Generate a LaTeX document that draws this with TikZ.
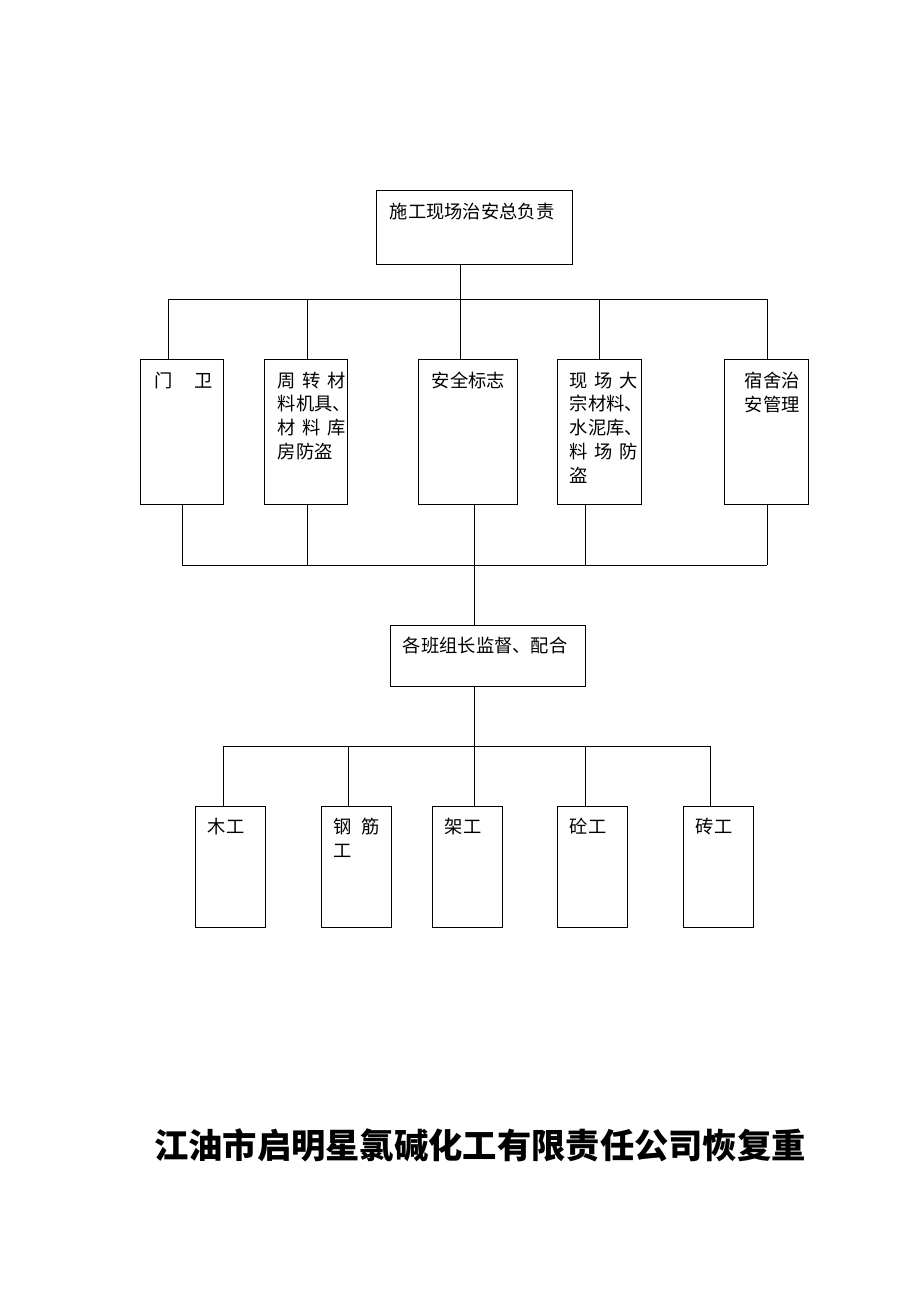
\documentclass[tikz,border=0pt]{standalone}
\usepackage{fontspec}
\setmainfont{Noto Sans CJK SC}
\usetikzlibrary{positioning}
\newcommand{\spread}[2][3.7em]{\makebox[#1][s]{#2}}
\tikzset{
	box/.style={draw, line width=0.65pt, inner sep=0pt},
	lbl/.style={inner sep=0pt, align=left, font=\fontsize{13}{17}\selectfont},
	wire/.style={line width=0.65pt}
}
\begin{document}
\begin{tikzpicture}
	\useasboundingbox (0,0) rectangle (23,32.55);
	% Sammelleitungen
	\coordinate (bus1) at (0,25.075);
	\coordinate (bus2) at (0,18.425);
	\coordinate (bus3) at (0,13.9);
	% Oberste Ebene
	\node[box, minimum width=4.9cm, minimum height=1.83cm] (boss) at (11.85,26.865) {};
	\node[lbl, below right=0.3cm and 0.35cm of boss.north west] (bosstxt) {施工现场治安总负责};
	% Zweite Ebene
	\node[box, minimum width=2.075cm, minimum height=3.625cm] (gate) at (4.54,21.74) {};
	\node[box, minimum width=2.075cm, minimum height=3.625cm] (tools) at (7.66,21.74) {};
	\node[box, minimum width=2.475cm, minimum height=3.625cm] (sign) at (11.69,21.74) {};
	\node[box, minimum width=2.1cm, minimum height=3.625cm] (yard) at (14.975,21.74) {};
	\node[box, minimum width=2.1cm, minimum height=3.625cm] (dorm) at (19.15,21.74) {};
	\node[lbl, below right=0.3cm and 0.375cm of gate.north west] (gatetxt) {门\hspace{1.15em}卫};
	\node[lbl, below right=0.3cm and 0.325cm of tools.north west] (toolstxt)
		{\spread{周\hfill 转\hfill 材}\\料机具、\\\spread{材\hfill 料\hfill 库}\\房防盗};
	\node[lbl, below right=0.3cm and 0.35cm of sign.north west] (signtxt) {安全标志};
	\node[lbl, below right=0.3cm and 0.325cm of yard.north west] (yardtxt)
		{\spread{现\hfill 场\hfill 大}\\宗材料、\\水泥库、\\\spread{料\hfill 场\hfill 防}\\盗};
	\node[lbl, below right=0.3cm and 0.525cm of dorm.north west] (dormtxt) {宿舍治\\安管理};
	% Mittlere Ebene
	\node[box, minimum width=4.875cm, minimum height=1.525cm] (lead) at (12.19,16.1625) {};
	\node[lbl, below right=0.3cm and 0.325cm of lead.north west] (leadtxt) {各班组长监督、配合};
	% Unterste Ebene
	\foreach \x/\n/\t in {5.75/wood/木工, 8.9/steel/{\spread[2.5em]{钢\hfill 筋}\\工},
			11.675/scaf/架工, 14.8/conc/砼工, 17.95/brick/砖工} {
		\node[box, minimum width=1.75cm, minimum height=3.025cm] (\n) at (\x,10.8875) {};
		\node[lbl, below right=0.3cm and 0.325cm of \n.north west] (\n txt) {\t};
	}
	% Verbindungen oben
	\draw[wire] (boss.south -| 11.5,0) -- (bus1 -| 11.5,0);
	\draw[wire] (bus1 -| 4.2,0) -- (bus1 -| 19.175,0);
	\foreach \x/\n in {4.2/gate, 7.675/tools, 11.5/sign, 14.975/yard, 19.175/dorm}
		\draw[wire] (bus1 -| \x,0) -- (\n.north -| \x,0);
	% Verbindungen Mitte
	\foreach \x/\n in {4.55/gate, 7.675/tools, 11.85/sign, 14.625/yard, 19.175/dorm}
		\draw[wire] (\n.south -| \x,0) -- (bus2 -| \x,0);
	\draw[wire] (bus2 -| 4.55,0) -- (bus2 -| 19.175,0);
	\draw[wire] (bus2 -| 11.85,0) -- (lead.north -| 11.85,0);
	% Verbindungen unten
	\draw[wire] (lead.south -| 11.85,0) -- (bus3 -| 11.85,0);
	\draw[wire] (bus3 -| 5.575,0) -- (bus3 -| 17.75,0);
	\foreach \x/\n in {5.575/wood, 8.7/steel, 11.85/scaf, 14.625/conc, 17.75/brick}
		\draw[wire] (bus3 -| \x,0) -- (\n.north -| \x,0);
	% Titel
	\node[font=\fontsize{24.4}{28}\selectfont\bfseries] (title) at (12.0,3.925)
		{江油市启明星氯碱化工有限责任公司恢复重};
\end{tikzpicture}
\end{document}
